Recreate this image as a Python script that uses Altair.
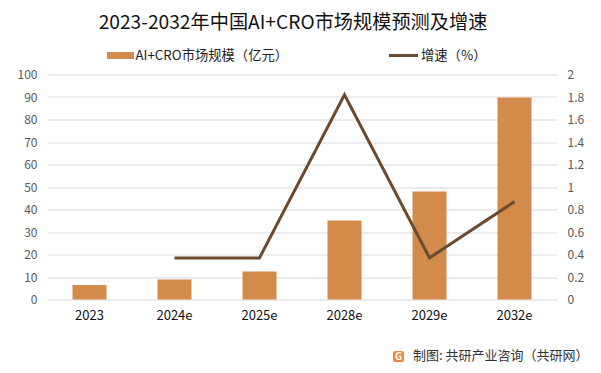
import altair as alt
import pandas as pd

categories = ["2023", "2024e", "2025e", "2028e", "2029e", "2032e"]
market = [6.4, 8.9, 12.4, 35.1, 48.0, 89.8]
growth = [None, 0.37, 0.37, 1.82, 0.37, 0.87]

title_text = "2023-2032年中国AI+CRO市场规模预测及增速"
legend_bar = "AI+CRO市场规模（亿元）"
legend_line = "增速（%）"
footer_text = "制图: 共研产业咨询（共研网）"
left_ticks = list(range(0, 101, 10))
right_ticks = [0, 0.2, 0.4, 0.6, 0.8, 1, 1.2, 1.4, 1.6, 1.8, 2]

FONT = "Noto Sans CJK SC"
BAR_COLOR = "#D38B4C"
LINE_COLOR = "#6B4A2F"

df = pd.DataFrame({"year": categories, "market": market, "growth": growth})
df_line = df.dropna(subset=["growth"])
one = pd.DataFrame({"a": [0]})

W, H = 510, 225

xenc = alt.X(
    "year:N",
    sort=categories,
    scale=alt.Scale(paddingInner=0.6, paddingOuter=0.3),
    axis=alt.Axis(
        title=None, labelAngle=0, domain=False, ticks=False, labelPadding=10,
        labelFontSize=13, labelColor="#111", labelFont=FONT,
    ),
)

bars = alt.Chart(df).mark_bar(color=BAR_COLOR).encode(
    x=xenc,
    y=alt.Y(
        "market:Q",
        scale=alt.Scale(domain=[0, 100], nice=False),
        axis=alt.Axis(
            title=None, values=left_ticks, domain=False, ticks=False,
            labelPadding=10, labelFontSize=12, labelColor="#595959",
            labelFont=FONT, grid=True, gridColor="#D9D9D9", gridWidth=1,
        ),
    ),
)

line = alt.Chart(df_line).mark_line(color=LINE_COLOR, strokeWidth=3).encode(
    x=alt.X("year:N", sort=categories),
    y=alt.Y(
        "growth:Q",
        scale=alt.Scale(domain=[0, 2], nice=False),
        axis=alt.Axis(
            title=None, values=right_ticks, format=".1~f", orient="right",
            domain=False, ticks=False, labelPadding=10, labelFontSize=12,
            labelColor="#595959", labelFont=FONT, grid=False,
        ),
    ),
)

base = alt.Chart(one)

title = base.mark_text(
    text=title_text, font=FONT, fontSize=19.2, color="#111",
    align="center", baseline="middle",
).encode(x=alt.value(246), y=alt.value(-52))

leg_rect = base.mark_rect(color=BAR_COLOR).encode(
    x=alt.value(60), x2=alt.value(87), y=alt.value(-22.5), y2=alt.value(-15.5)
)
leg_text1 = base.mark_text(
    text=legend_bar, font=FONT, fontSize=13.3, color="#222",
    align="left", baseline="middle",
).encode(x=alt.value(88.5), y=alt.value(-19))
leg_rule = base.mark_rule(color=LINE_COLOR, strokeWidth=3).encode(
    x=alt.value(342), x2=alt.value(371), y=alt.value(-19)
)
leg_text2 = base.mark_text(
    text=legend_line, font=FONT, fontSize=13.3, color="#222",
    align="left", baseline="middle",
).encode(x=alt.value(374), y=alt.value(-19))

logo = base.mark_rect(color="#F08A3C", cornerRadius=2).encode(
    x=alt.value(346), x2=alt.value(357), y=alt.value(276.5), y2=alt.value(287.5)
)
logo_g = base.mark_text(
    text="G", font=FONT, fontSize=10, fontWeight="bold", color="white",
    align="center", baseline="middle",
).encode(x=alt.value(351.5), y=alt.value(282))
footer = base.mark_text(
    text=footer_text, font=FONT, fontSize=13, color="#333",
    align="left", baseline="middle",
).encode(x=alt.value(366), y=alt.value(281.5))

plot = alt.layer(bars, line).resolve_scale(y="independent")

chart = alt.layer(
    plot, title, leg_rect, leg_text1, leg_rule, leg_text2, logo, logo_g, footer
).properties(
    width=W, height=H,
    autosize=alt.AutoSizeParams(type="none"),
    padding={"left": 39, "top": 66.5, "right": 36, "bottom": 65.5},
    background="white",
).configure_view(stroke=None)

chart.save("out.html", embed_options={"renderer": "svg", "actions": False})
